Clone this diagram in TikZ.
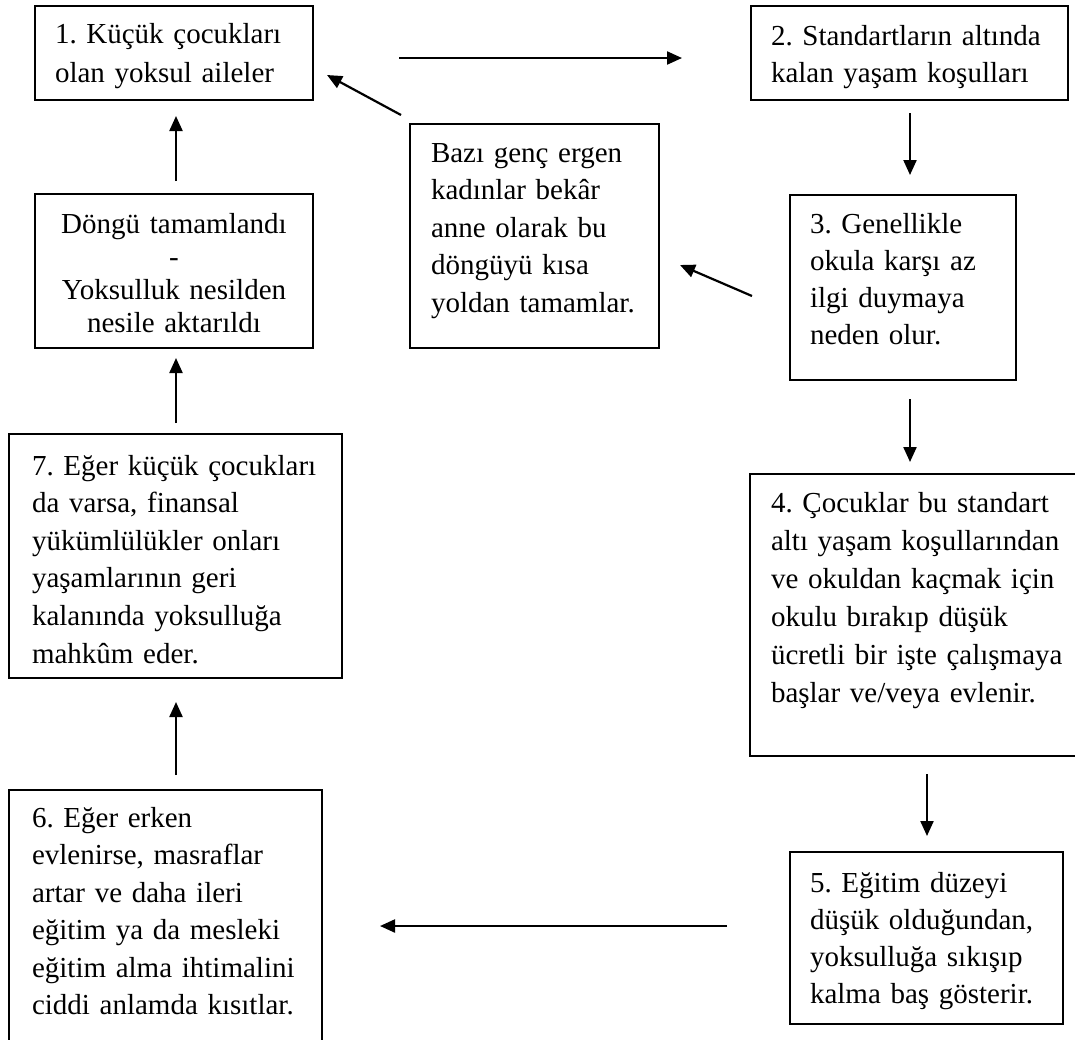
\documentclass[tikz,border=0pt]{standalone}
\usepackage{fontspec}
\setmainfont{Liberation Serif}
\usetikzlibrary{arrows.meta,calc}
\newcommand{\bxfont}[1]{\fontsize{29}{#1}\selectfont\frenchspacing\hyphenpenalty=10000\exhyphenpenalty=10000\relax}
\begin{document}
\begin{tikzpicture}[x=1pt,y=-1pt,
  box/.style={draw=black, line width=1.4pt, anchor=north west, inner ysep=0pt, outer sep=0pt, align=left},
  arr/.style={line width=2.2pt, -{Triangle[length=15pt,width=13pt]}}
]
\useasboundingbox (0,0) rectangle (1075,1039);
\clip (0,0) rectangle (1075,1039);

\node[box, inner xsep=20pt, text width=238pt, text height=37pt, text depth=57pt,
      font=\bxfont{39}] (box1) at (35,6)
  {1. Küçük çocukları\\olan yoksul aileler};
\node[box, inner xsep=20pt, text width=277pt, text height=39pt, text depth=55pt,
      font=\bxfont{37}] (box2) at (751,6)
  {2. Standartların altında\\kalan yaşam koşulları};
\node[box, inner xsep=21pt, text width=207pt, text height=38pt, text depth=186pt,
      font=\bxfont{37.5}] (bazi) at (410,124)
  {Bazı genç ergen\\kadınlar bekâr\\anne olarak bu\\döngüyü kısa\\yoldan tamamlar.};
\node[box, align=center, inner xsep=10pt, text width=258pt, text height=39pt, text depth=115pt,
      font=\bxfont{33.3}] (dongu) at (35,194)
  {Döngü tamamlandı\\-\\Yoksulluk nesilden\\nesile aktarıldı};
\node[box, inner xsep=20pt, text width=186pt, text height=38pt, text depth=147pt,
      font=\bxfont{37}] (box3) at (790,195)
  {3. Genellikle\\okula karşı az\\ilgi duymaya\\neden olur.};
\node[box, inner xsep=21pt, text width=298pt, text height=38pt, text depth=244pt,
      font=\bxfont{38}] (box4) at (750,474)
  {4. Çocuklar bu standart\\altı yaşam koşullarından\\ve okuldan kaçmak için\\okulu bırakıp düşük\\ücretli bir işte çalışmaya\\başlar ve/veya evlenir.};
\node[box, inner xsep=20pt, text width=233pt, text height=40pt, text depth=132pt,
      font=\bxfont{37}] (box5) at (790,852)
  {5. Eğitim düzeyi\\düşük olduğundan,\\yoksulluğa sıkışıp\\kalma baş gösterir.};
\node[box, inner xsep=23pt, text width=287pt, text height=41pt, text depth=203pt,
      font=\bxfont{37.6}] (box7) at (9,434)
  {7. Eğer küçük çocukları\\da varsa, finansal\\yükümlülükler onları\\yaşamlarının geri\\kalanında yoksulluğa\\mahkûm eder.};
\node[box, inner xsep=23pt, text width=267pt, text height=37pt, text depth=253pt,
      font=\bxfont{37.5}] (box6) at (9,790)
  {6. Eğer erken\\evlenirse, masraflar\\artar ve daha ileri\\eğitim ya da mesleki\\eğitim alma ihtimalini\\ciddi anlamda kısıtlar.};

\draw[arr] ($(box1.east)+(86,5)$) -- ($(box2.west)+(-69,5)$);
\draw[arr] ($(bazi.north west)+(-9,-9)$) -- ($(box1.south east)+(14,-25)$);
\draw[arr] ($(dongu.north)+(2,-13)$) -- ($(box1.south)+(2,16)$);
\draw[arr] ($(box7.north)+(0.5,-11)$) -- ($(dongu.south)+(2,10)$);
\draw[arr] ($(box6.north)+(10.5,-15)$) -- ($(box7.south)+(0.5,24)$);
\draw[arr] ($(box2.south)+(0.5,13)$) -- ($(box3.north)+(7,-20)$);
\draw[arr] ($(box3.south)+(7,19)$) -- ($(box4.north)+(-10,-12)$);
\draw[arr] ($(box4.south)+(7,18)$) -- ($(box5.north)+(0.5,-16)$);
\draw[arr] ($(box5.west)+(-63,-12)$) -- ($(box6.east)+(58,-9)$);
\draw[arr] ($(box3.west)+(-38,8.5)$) -- ($(bazi.east)+(21,29)$);
\end{tikzpicture}
\end{document}
